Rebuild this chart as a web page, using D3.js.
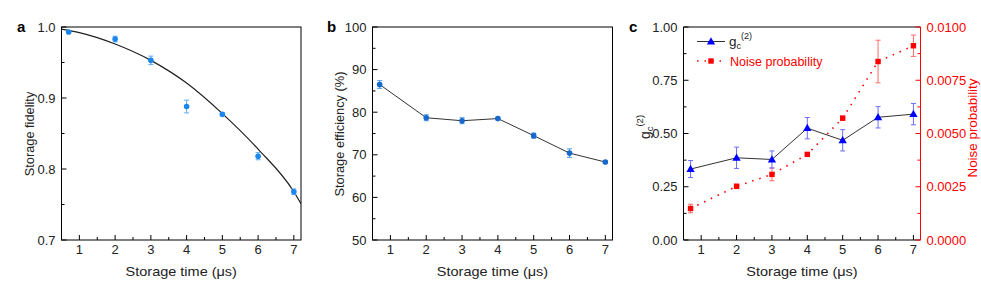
<!DOCTYPE html>
<html>
<head>
<meta charset="utf-8">
<script src="https://cdn.jsdelivr.net/npm/d3@7"></script>
<style>
  body { margin: 0; background: #fff; }
  text { font-family: "Liberation Sans", Arial, sans-serif; }
</style>
</head>
<body>
<svg id="fig" width="981" height="295"></svg>
<script>
// storage times (µs)
var times = [0.7, 2, 3, 4, 5, 6, 7];

// panel a: storage fidelity
var fidelity     = [0.993, 0.983, 0.953, 0.888, 0.877, 0.818, 0.768];
var fidelity_err = [0.002, 0.004, 0.006, 0.009, 0.002, 0.005, 0.004];
var fit_t = [0.5, 1, 2, 3, 4, 5, 6, 7, 7.2];
var fit_f = [0.997, 0.992, 0.976, 0.953, 0.921, 0.878, 0.828, 0.768, 0.751];

// panel b: storage efficiency (%)
var efficiency     = [86.5, 78.7, 78.0, 78.5, 74.5, 70.4, 68.3];
var efficiency_err = [0.9, 0.7, 0.7, 0.3, 0.6, 1.0, 0.3];

// panel c: g_c(2) and noise probability
var g2     = [0.333, 0.386, 0.378, 0.525, 0.468, 0.576, 0.591];
var g2_err = [0.04, 0.05, 0.04, 0.05, 0.05, 0.05, 0.05];
var noise     = [0.00148, 0.00252, 0.00308, 0.00402, 0.00572, 0.00838, 0.00912];
var noise_err = [0.0002, 0.0001, 0.0003, 0.00005, 0.0001, 0.0010, 0.0005];

var x_ticks = [1, 2, 3, 4, 5, 6, 7];
var x_minor = [1.5, 2.5, 3.5, 4.5, 5.5, 6.5];

var svg = d3.select("#fig");
var TOP = 27, BOTTOM = 240;
var MAJOR = 5, MINOR = 3;
var TICK_FS = 13;

function frame(g, x0, x1) {
    g.append("rect")
        .attr("x", x0).attr("y", TOP)
        .attr("width", x1 - x0).attr("height", BOTTOM - TOP)
        .attr("fill", "none").attr("stroke", "#000").attr("stroke-width", 1);
}

function x_axis(g, x) {
    x_ticks.forEach(function(t) {
        g.append("line").attr("x1", x(t)).attr("x2", x(t))
            .attr("y1", BOTTOM).attr("y2", BOTTOM - MAJOR).attr("stroke", "#000");
        g.append("text").attr("x", x(t)).attr("y", 253.5)
            .attr("text-anchor", "middle").attr("font-size", TICK_FS).attr("fill", "#222")
            .text(t);
    });
    x_minor.forEach(function(t) {
        g.append("line").attr("x1", x(t)).attr("x2", x(t))
            .attr("y1", BOTTOM).attr("y2", BOTTOM - MINOR).attr("stroke", "#000");
    });
    var mid = (x.range()[0] + x.range()[1]) / 2;
    g.append("text")
        .attr("transform", "translate(" + mid + ",276) scale(1,0.88)")
        .attr("text-anchor", "middle").attr("font-size", 14.5).attr("fill", "#222")
        .text("Storage time (\u03bcs)");
}

function y_axis(g, y, xpos, ticks, minor, fmt, side, color) {
    var dir = side == "left" ? 1 : -1;
    ticks.forEach(function(t) {
        g.append("line").attr("x1", xpos).attr("x2", xpos + dir * MAJOR)
            .attr("y1", y(t)).attr("y2", y(t)).attr("stroke", color);
        g.append("text")
            .attr("x", xpos - dir * 6).attr("y", y(t) + 4.5)
            .attr("text-anchor", side == "left" ? "end" : "start")
            .attr("font-size", TICK_FS).attr("fill", color == "#000" ? "#222" : color)
            .text(fmt(t));
    });
    minor.forEach(function(t) {
        g.append("line").attr("x1", xpos).attr("x2", xpos + dir * MINOR)
            .attr("y1", y(t)).attr("y2", y(t)).attr("stroke", color);
    });
}

function y_title(g, x, yc, txt, color, fs) {
    return g.append("text")
        .attr("transform", "translate(" + x + "," + yc + ") rotate(-90)")
        .attr("text-anchor", "middle").attr("font-size", fs || 12.8).attr("fill", color)
        .text(txt);
}

function error_bars(g, x, y, xs, ys, es, color) {
    xs.forEach(function(t, i) {
        var cx = x(t), y0 = y(ys[i] - es[i]), y1 = y(ys[i] + es[i]);
        g.append("line").attr("x1", cx).attr("x2", cx).attr("y1", y0).attr("y2", y1)
            .attr("stroke", color).attr("stroke-width", 1);
        [y0, y1].forEach(function(yy) {
            g.append("line").attr("x1", cx - 2.5).attr("x2", cx + 2.5)
                .attr("y1", yy).attr("y2", yy).attr("stroke", color);
        });
    });
}

function panel_label(x, txt) {
    svg.append("text").attr("x", x).attr("y", 32)
        .attr("font-size", 15).attr("font-weight", "bold").attr("fill", "#000")
        .text(txt);
}

// ---------- panel a ----------
(function() {
    var g = svg.append("g");
    var x = d3.scaleLinear().domain([0.5, 7.2]).range([61.5, 301]);
    var y = d3.scaleLinear().domain([0.7, 1.0]).range([BOTTOM, TOP]);
    x_axis(g, x);
    y_axis(g, y, 61.5, [0.7, 0.8, 0.9, 1.0], [0.75, 0.85, 0.95], d3.format(".1f"), "left", "#000");
    y_title(g, 34, 134, "Storage fidelity", "#222");

    g.append("clipPath").attr("id", "clipa")
        .append("rect").attr("x", 61.5).attr("y", TOP).attr("width", 239.5).attr("height", BOTTOM - TOP);
    var line = d3.line().x(function(d) { return x(d[0]); }).y(function(d) { return y(d[1]); })
        .curve(d3.curveMonotoneX);
    g.append("path").datum(d3.zip(fit_t, fit_f)).attr("d", line)
        .attr("fill", "none").attr("stroke", "#222").attr("stroke-width", 1.2)
        .attr("clip-path", "url(#clipa)");

    error_bars(g, x, y, times, fidelity, fidelity_err, "#5aaaf5");
    g.selectAll("circle.pa").data(times).enter().append("circle")
        .attr("cx", function(d) { return x(d); })
        .attr("cy", function(d, i) { return y(fidelity[i]); })
        .attr("r", 2.8).attr("fill", "#1a86ee");
    frame(g, 61.5, 301);
    panel_label(17, "a");
})();

// ---------- panel b ----------
(function() {
    var g = svg.append("g");
    var x = d3.scaleLinear().domain([0.5, 7.2]).range([372.5, 612.5]);
    var y = d3.scaleLinear().domain([50, 100]).range([BOTTOM, TOP]);
    x_axis(g, x);
    y_axis(g, y, 372.5, [50, 60, 70, 80, 90, 100], [55, 65, 75, 85, 95], d3.format("d"), "left", "#000");
    y_title(g, 344, 134, "Storage efficiency (%)", "#222");

    var line = d3.line().x(function(d) { return x(d[0]); }).y(function(d) { return y(d[1]); });
    g.append("path").datum(d3.zip(times, efficiency)).attr("d", line)
        .attr("fill", "none").attr("stroke", "#333").attr("stroke-width", 1);
    error_bars(g, x, y, times, efficiency, efficiency_err, "#4a9ae8");
    g.selectAll("circle.pb").data(times).enter().append("circle")
        .attr("cx", function(d) { return x(d); })
        .attr("cy", function(d, i) { return y(efficiency[i]); })
        .attr("r", 2.8).attr("fill", "#1668cc");
    frame(g, 372.5, 612.5);
    panel_label(327, "b");
})();

// ---------- panel c ----------
(function() {
    var g = svg.append("g");
    var x = d3.scaleLinear().domain([0.5, 7.2]).range([683.5, 920.5]);
    var yl = d3.scaleLinear().domain([0, 1]).range([BOTTOM, TOP]);
    var yr = d3.scaleLinear().domain([0, 0.01]).range([BOTTOM, TOP]);

    // frame: black left/top/bottom, red right
    g.append("path").attr("d", "M920.5," + TOP + "H683.5V" + BOTTOM + "H920.5")
        .attr("fill", "none").attr("stroke", "#000");
    x_axis(g, x);
    y_axis(g, yl, 683.5, [0, 0.25, 0.5, 0.75, 1], [0.125, 0.375, 0.625, 0.875], d3.format(".2f"), "left", "#000");
    y_axis(g, yr, 920.5, [0, 0.0025, 0.005, 0.0075, 0.01], [0.00125, 0.00375, 0.00625, 0.00875], d3.format(".4f"), "right", "#ff0000");
    g.append("line").attr("x1", 920.5).attr("x2", 920.5).attr("y1", TOP).attr("y2", BOTTOM)
        .attr("stroke", "#ff0000");

    var gt = y_title(g, 650, 127, "g", "#222", 14);
    gt.append("tspan").attr("font-size", 9.5).attr("dy", 3).text("c");
    gt.append("tspan").attr("font-size", 9.5).attr("dy", -10).text("(2)");
    y_title(g, 977, 128, "Noise probability", "#ff0000", 13.4);

    // noise: red dotted line + squares
    var liner = d3.line().x(function(d) { return x(d[0]); }).y(function(d) { return yr(d[1]); });
    g.append("path").datum(d3.zip(times, noise)).attr("d", liner)
        .attr("fill", "none").attr("stroke", "#ff0000").attr("stroke-width", 1.6)
        .attr("stroke-dasharray", "1.5,6");
    error_bars(g, x, yr, times, noise, noise_err, "#ff6a6a");
    g.selectAll("rect.nz").data(times).enter().append("rect")
        .attr("x", function(d) { return x(d) - 2.7; })
        .attr("y", function(d, i) { return yr(noise[i]) - 2.7; })
        .attr("width", 5.4).attr("height", 5.4).attr("fill", "#ff0000");

    // g2: black line + blue triangles
    var lineg = d3.line().x(function(d) { return x(d[0]); }).y(function(d) { return yl(d[1]); });
    g.append("path").datum(d3.zip(times, g2)).attr("d", lineg)
        .attr("fill", "none").attr("stroke", "#333").attr("stroke-width", 1);
    error_bars(g, x, yl, times, g2, g2_err, "#6b6bff");
    var tri = d3.symbol().type(d3.symbolTriangle).size(30);
    g.selectAll("path.tr").data(times).enter().append("path")
        .attr("d", tri)
        .attr("transform", function(d, i) { return "translate(" + x(d) + "," + (yl(g2[i]) + 0.5) + ")"; })
        .attr("fill", "#0000ff");

    // legend
    var lg = g.append("g");
    lg.append("line").attr("x1", 697).attr("x2", 725).attr("y1", 41.5).attr("y2", 41.5)
        .attr("stroke", "#333");
    lg.append("path").attr("d", tri).attr("transform", "translate(711,42)").attr("fill", "#0000ff");
    var lt = lg.append("text").attr("x", 729).attr("y", 46).attr("font-size", 13.5).attr("fill", "#222").text("g");
    lt.append("tspan").attr("font-size", 9).attr("dy", 3).text("c");
    lt.append("tspan").attr("font-size", 9).attr("dy", -10).text("(2)");
    lg.append("line").attr("x1", 697).attr("x2", 725).attr("y1", 61).attr("y2", 61)
        .attr("stroke", "#ff0000").attr("stroke-width", 1.6).attr("stroke-dasharray", "1.5,6");
    lg.append("rect").attr("x", 708.3).attr("y", 58.3).attr("width", 5.4).attr("height", 5.4).attr("fill", "#ff0000");
    lg.append("text").attr("x", 730).attr("y", 65.5).attr("font-size", 12.5).attr("fill", "#ff0000")
        .text("Noise probability");

    panel_label(629, "c");
})();
</script>
</body>
</html>
